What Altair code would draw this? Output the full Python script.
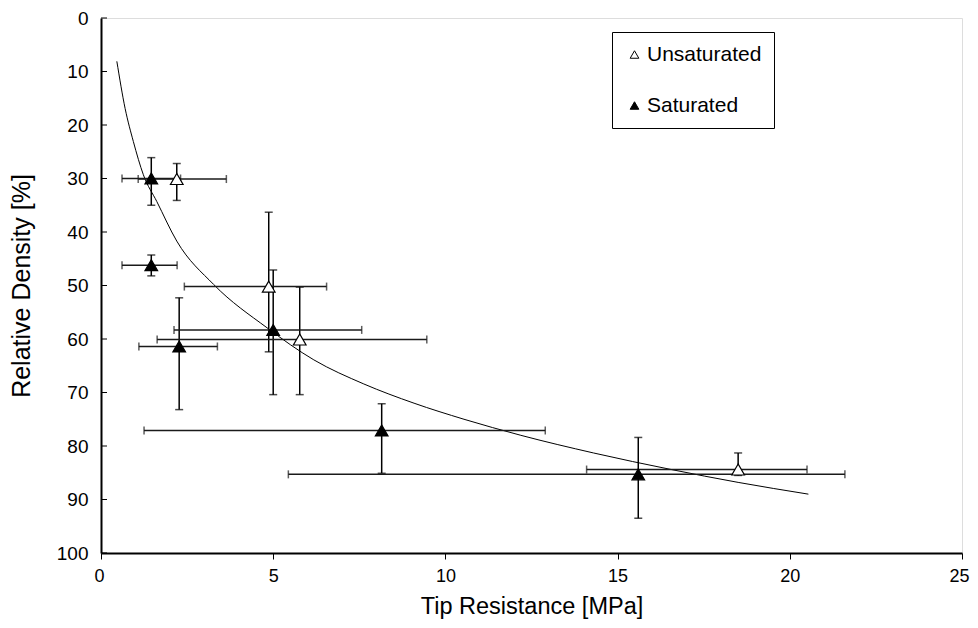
import altair as alt
import pandas as pd

# ---- data ----
unsat_x = [2.2, 4.87, 5.77, 18.5]
unsat_y = [30.1, 50.2, 60.1, 84.4]
unsat_xlo = [1.08, 2.42, 1.63, 14.1]
unsat_xhi = [3.64, 6.55, 9.46, 20.5]
unsat_ylo = [27.2, 36.3, 50.3, 81.3]
unsat_yhi = [34.1, 62.4, 70.4, 85.5]

sat_x = [1.46, 1.46, 2.27, 5.0, 8.15, 15.6]
sat_y = [30.0, 46.2, 61.4, 58.3, 77.1, 85.3]
sat_xlo = [0.61, 0.61, 1.1, 2.12, 1.25, 5.44]
sat_xhi = [2.31, 2.21, 3.38, 7.57, 12.9, 21.6]
sat_ylo = [26.1, 44.3, 52.3, 47.1, 72.1, 78.4]
sat_yhi = [35.0, 48.2, 73.2, 70.4, 85.1, 93.5]

curve_x = [0.46, 0.70, 0.94, 1.23, 1.62, 2.2, 3.27, 4.82, 6.18, 7.63, 9.09, 10.54, 12.19, 14.3, 16.56, 18.5, 20.54]
curve_y = [8.1, 16.9, 23.1, 29.3, 34.3, 41.7, 49.8, 57.9, 63.9, 68.4, 72.0, 75.0, 78.0, 81.3, 84.4, 86.8, 89.0]

x_ticks = [0, 5, 10, 15, 20, 25]
y_ticks = [0, 10, 20, 30, 40, 50, 60, 70, 80, 90, 100]
series_names = ["Unsaturated", "Saturated"]

X_TITLE = "Tip Resistance [MPa]"
Y_TITLE = "Relative Density [%]"

pts = pd.DataFrame({
    "series": ["Unsaturated"] * len(unsat_x) + ["Saturated"] * len(sat_x),
    "x": unsat_x + sat_x,
    "y": unsat_y + sat_y,
    "xlo": unsat_xlo + sat_xlo,
    "xhi": unsat_xhi + sat_xhi,
    "ylo": unsat_ylo + sat_ylo,
    "yhi": unsat_yhi + sat_yhi,
})
curve = pd.DataFrame({"x": curve_x, "y": curve_y})
yt = pd.DataFrame({"v": y_ticks})

xs = alt.Scale(domain=[0, 25], nice=False, zero=False)
ys = alt.Scale(domain=[0, 100], reverse=True, nice=False, zero=False)

FONT = "Liberation Sans, Arial, sans-serif"

x_axis = alt.Axis(
    values=x_ticks, grid=False, domainColor="black", domainWidth=2,
    tickColor="black", tickSize=6, tickWidth=1, labelFlush=True, labelFlushOffset=7,
    labelFont=FONT, labelFontSize=18, labelColor="black", labelPadding=8,
    titleFont=FONT, titleFontSize=23.5, titleFontWeight="normal",
    titleColor="black", titlePadding=9,
)
y_axis = alt.Axis(
    values=y_ticks, grid=False, domainColor="black", domainWidth=2, ticks=False,
    labelFlush=False,
    labelFont=FONT, labelFontSize=19, labelColor="black", labelPadding=13,
    titleFont=FONT, titleFontSize=25, titleFontWeight="normal",
    titleColor="black", titlePadding=22,
)

X = lambda f: alt.X(f, scale=xs, axis=x_axis, title=X_TITLE)
Y = lambda f: alt.Y(f, scale=ys, axis=y_axis, title=Y_TITLE)

ticks_in = alt.Chart(yt).mark_rule(color="black", strokeWidth=1).encode(
    y=Y("v:Q"), x=alt.value(0), x2=alt.value(6)
)

curve_layer = alt.Chart(curve).mark_line(
    color="black", strokeWidth=1, interpolate="monotone"
).encode(x=X("x:Q"), y=Y("y:Q"))

vbars = alt.Chart(pts).mark_errorbar(
    ticks=True, size=8, thickness=1.5, color="black"
).encode(x=X("x:Q"), y=Y("ylo:Q"), y2="yhi:Q")

hbars = alt.Chart(pts).mark_errorbar(
    ticks=True, size=8, thickness=1.5, color="#1a1a1a"
).encode(y=Y("y:Q"), x=X("xlo:Q"), x2="xhi:Q")

points = alt.Chart(pts).mark_point(
    shape="triangle-up", size=160, stroke="black", strokeWidth=1.2, opacity=1, filled=True
).encode(
    x=X("x:Q"), y=Y("y:Q"),
    fill=alt.Fill(
        "series:N",
        scale=alt.Scale(domain=series_names, range=["white", "black"]),
        legend=alt.Legend(
            title=None, orient="none", legendX=511, legendY=14,
            strokeColor="black", fillColor="white", padding=12,
            symbolType="triangle-up", symbolSize=75, symbolStrokeColor="black",
            symbolStrokeWidth=1, labelFont=FONT, labelFontSize=21,
            labelColor="black", rowPadding=29, labelOffset=2, cornerRadius=0,
        ),
    ),
)

chart = alt.layer(ticks_in, curve_layer, vbars, hbars, points).properties(
    width=861, height=535,
    autosize=alt.AutoSizeParams(type="none"),
    padding={"left": 93, "top": 10, "right": 8, "bottom": 67},
).configure_view(stroke="black", strokeWidth=1).configure(background="white")

chart.save("out.html", embed_options={"renderer": "svg", "actions": False})
